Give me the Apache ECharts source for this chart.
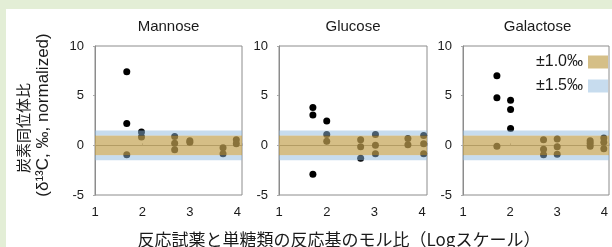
<!DOCTYPE html>
<html><head><meta charset="utf-8">
<script src="https://cdn.jsdelivr.net/npm/echarts@6/dist/echarts.min.js"></script>
<style>
html,body{margin:0;padding:0;background:#e3eed6;width:612px;height:247px;overflow:hidden}
#c{position:absolute;left:6px;top:9px;width:606px;height:238px;background:#fff}
</style></head>
<body><div id="c"></div>
<script>
// ---- data ----
const panelTitles = ['Mannose', 'Glucose', 'Galactose'];
const xTicks = [1, 2, 3, 4];
const yTicks = [-5, 0, 5, 10];
const mannose = [[1.67,7.4],[1.67,2.2],[1.67,-0.95],[1.98,1.35],[1.98,0.85],[2.68,0.9],[2.68,0.2],[2.68,-0.45],[3.0,0.45],[3.0,0.3],[3.7,-0.25],[3.7,-0.85],[3.98,0.55],[3.98,0.15]];
const glucose = [[1.71,3.8],[1.71,3.05],[1.71,-2.9],[2.0,2.45],[2.0,1.1],[2.0,0.4],[2.71,0.55],[2.71,-0.15],[2.71,-1.3],[3.02,1.1],[3.02,0.0],[3.02,-0.85],[3.7,0.7],[3.7,0.05],[4.03,1.0],[4.03,0.15],[4.03,-0.85]];
const galactose = [[1.72,7.0],[1.72,4.8],[1.72,-0.1],[2.01,4.55],[2.01,3.6],[2.01,1.7],[2.71,0.55],[2.71,-0.4],[2.71,-0.95],[3.0,0.65],[3.0,-0.15],[3.0,-0.9],[3.7,0.45],[3.7,0.2],[3.7,-0.1],[3.99,0.75],[3.99,0.3],[3.99,-0.35]];
const bandInner = 1.0;
const bandOuter = 1.5;
const legendNames = ['±1.0‰', '±1.5‰'];
const panels = [mannose, glucose, galactose];

const OX = 6, OY = 9;
const gridLefts = [95, 279, 463];
const gridWidths = [147, 148, 149];
const gridTop = 46, gridH = 149;
const font = '"Liberation Sans", Arial, sans-serif';
const jfont = '"Noto Sans CJK JP", sans-serif';
const gold = 'rgba(195,162,82,0.7)';
const blue = 'rgba(143,185,221,0.5)';

const grids = [], xAxes = [], yAxes = [], series = [], graphics = [];
panels.forEach((pts, i) => {
  grids.push({left: gridLefts[i]-OX, top: gridTop-OY, width: gridWidths[i], height: gridH,
    show: true, borderColor: '#8c8c8c', borderWidth: 1, backgroundColor: 'transparent'});
  xAxes.push({gridIndex: i, type: 'value', min: 1, max: 4.1, interval: 1,
    axisLine: {show: true, lineStyle: {color: '#8c8c8c'}},
    axisTick: {show: true, inside: true, length: 2, lineStyle: {color: '#aaa'}},
    splitLine: {show: false},
    axisLabel: {margin: 11, fontSize: 13, fontFamily: font, color: '#1a1a1a',
      formatter: v => xTicks.includes(v) ? String(v) : ''}});
  yAxes.push({gridIndex: i, type: 'value', min: -5, max: 10, interval: 5,
    axisLine: {show: true, lineStyle: {color: '#8c8c8c'}},
    axisTick: {show: true, length: 2, lineStyle: {color: '#aaa'}},
    splitLine: {show: false},
    axisLabel: {margin: 11, fontSize: 13, fontFamily: font, color: '#1a1a1a',
      formatter: v => yTicks.includes(v) ? String(v) : ''}});
  series.push({type: 'scatter', xAxisIndex: i, yAxisIndex: i, data: pts, symbolSize: 7,
    itemStyle: {color: '#000', opacity: 1}, z: 2, silent: true});
  series.push({type: 'scatter', name: legendNames[0], xAxisIndex: i, yAxisIndex: i, data: [],
    itemStyle: {color: '#d5bf87', opacity: 1},
    markArea: {silent: true, z: 5, itemStyle: {color: gold},
      data: [[{yAxis: -bandInner}, {yAxis: bandInner}]]}});
  series.push({type: 'scatter', name: legendNames[1], xAxisIndex: i, yAxisIndex: i, data: [],
    itemStyle: {color: '#c7dcee', opacity: 1},
    markArea: {silent: true, z: 5, itemStyle: {color: blue},
      data: [[{yAxis: bandInner}, {yAxis: bandOuter}], [{yAxis: -bandOuter}, {yAxis: -bandInner}]]}});
  graphics.push({type: 'text', x: gridLefts[i]-OX + gridWidths[i]/2, y: 27-OY,
    style: {text: panelTitles[i], align: 'center', verticalAlign: 'middle',
      font: '15px ' + font, fill: '#1a1a1a'}});
});

graphics.push({type: 'text', x: 23-OX, y: 128-OY, rotation: Math.PI/2,
  style: {text: '炭素同位体比', align: 'center', verticalAlign: 'middle', font: '15px ' + jfont, fill: '#1a1a1a'}});
graphics.push({type: 'text', x: 43-OX, y: 115-OY, rotation: Math.PI/2,
  style: {text: '(δ¹³C, ‰, normalized)', align: 'center', verticalAlign: 'middle', font: '17px ' + font, fill: '#1a1a1a'}});
graphics.push({type: 'text', x: 339-OX, y: 240-OY,
  style: {text: '反応試薬と単糖類の反応基のモル比（Logスケール）', align: 'center', verticalAlign: 'middle', font: '17px ' + jfont, fill: '#1a1a1a'}});

const chart = echarts.init(document.getElementById('c'), null, {renderer: 'canvas'});
chart.setOption({
  animation: false,
  grid: grids, xAxis: xAxes, yAxis: yAxes, series: series, graphic: graphics,
  legend: {data: legendNames, orient: 'vertical', right: 4, top: 54-OY, align: 'right', padding: 0,
    icon: 'rect', itemWidth: 20, itemHeight: 13, itemGap: 8, selectedMode: false,
    textStyle: {fontSize: 16, fontFamily: font, color: '#1a1a1a', padding: [0, 0, 0, 0]}}
});
</script></body></html>
